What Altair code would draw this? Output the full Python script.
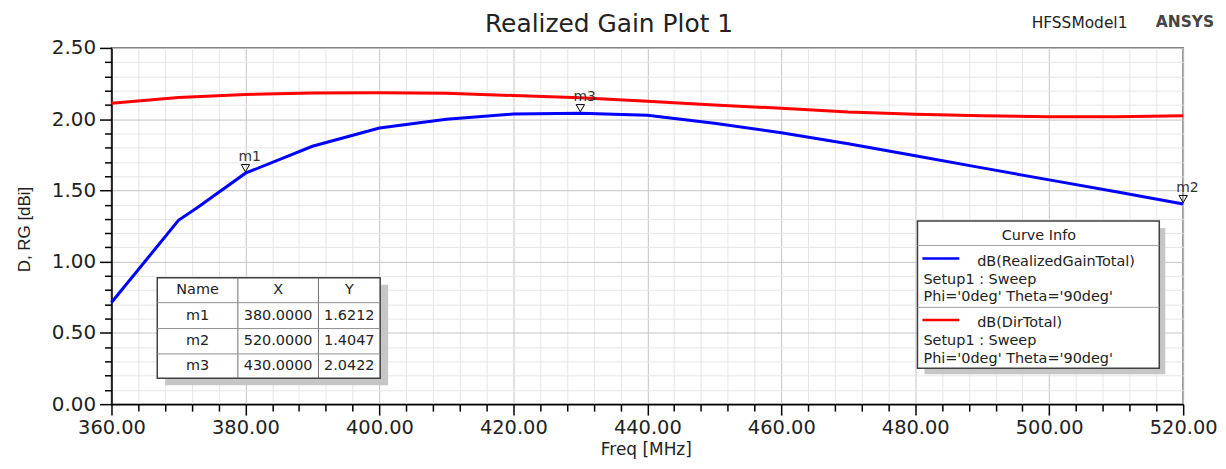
import altair as alt
import pandas as pd

# ---------------- data ----------------
freq_rg = [360, 370, 373, 380, 390, 400, 410, 420, 430, 440, 450, 460, 470, 480, 490, 500, 510, 520]
realized_gain = [0.713, 1.29, 1.385, 1.621, 1.81, 1.938, 2.00, 2.036, 2.042, 2.028, 1.972, 1.905,
                 1.828, 1.743, 1.658, 1.574, 1.49, 1.405]
freq_d = [360, 370, 380, 390, 400, 410, 420, 430, 440, 450, 460, 470, 480, 490, 500, 510, 520]
dir_total = [2.111, 2.152, 2.173, 2.183, 2.186, 2.182, 2.166, 2.150, 2.125, 2.100, 2.076, 2.050,
             2.035, 2.024, 2.017, 2.017, 2.024]

marker_names = ["m1", "m2", "m3"]
marker_x = [380.0, 520.0, 430.0]
marker_y = [1.6212, 1.4047, 2.0422]

series_names = ["dB(RealizedGainTotal)", "dB(DirTotal)"]
series_colors = ["#0000ff", "#ff0000"]

x_tick_values = list(range(360, 521, 4))          # every grid line, labels on multiples of 20
y_tick_values = [round(i * 0.1, 1) for i in range(26)]  # every grid line, labels on multiples of 0.5

title_text = "Realized Gain Plot 1"
model_text = "HFSSModel1"
brand_text = "ANSYS"
x_title = "Freq [MHz]"
y_title = "D, RG [dBi]"
setup_text = "Setup1 : Sweep"
angle_text = "Phi='0deg' Theta='90deg'"

# ---------------- tables ----------------
lines_df = pd.concat([
    pd.DataFrame({"freq": freq_rg, "val": realized_gain, "series": series_names[0]}),
    pd.DataFrame({"freq": freq_d, "val": dir_total, "series": series_names[1]}),
])
markers_df = pd.DataFrame({"freq": marker_x, "val": marker_y, "name": marker_names})

FONT = "DejaVu Sans"
TXT = "#222222"

x_major = "datum.value % 20 === 0"
y_major = "round(datum.value * 10) % 5 === 0"

x_axis = alt.Axis(
    values=x_tick_values,
    labelExpr=f"{x_major} ? format(datum.value, '.2f') : ''",
    labelOverlap=False, labelFlush=False,
    labelFont=FONT, labelFontSize=19.5, labelColor=TXT, labelPadding=3,
    tickColor="black", tickWidth=1.5,
    tickSize={"condition": {"test": x_major, "value": 11}, "value": 7},
    gridColor={"condition": {"test": x_major, "value": "#c4c4c4"}, "value": "#e6e6e6"},
    gridWidth=1,
    domainColor="black", domainWidth=1.5,
    title=x_title, titleFont=FONT, titleFontSize=17, titleFontWeight="normal",
    titleColor=TXT, titleX=537, titleY=51, titleBaseline="alphabetic", titleAlign="center",
)
y_axis = alt.Axis(
    values=y_tick_values,
    labelExpr=f"{y_major} ? format(datum.value, '.2f') : ''",
    labelOverlap=False, labelFlush=False,
    labelFont=FONT, labelFontSize=20, labelColor=TXT, labelPadding=4,
    tickColor="black", tickWidth=1.5,
    tickSize={"condition": {"test": y_major, "value": 12}, "value": 7},
    gridColor={"condition": {"test": y_major, "value": "#c4c4c4"}, "value": "#e6e6e6"},
    gridWidth=1,
    domainColor="black", domainWidth=1.5,
    title=y_title, titleFont="Liberation Sans", titleFontSize=17, titleFontWeight="normal",
    titleColor=TXT, titleX=-87, titleY=182, titleBaseline="middle", titleAlign="center",
    titleAngle=270,
)

x_enc = alt.X("freq:Q", scale=alt.Scale(domain=[360, 520], nice=False, zero=False), axis=x_axis)
y_enc = alt.Y("val:Q", scale=alt.Scale(domain=[0, 2.5], nice=False, zero=False), axis=y_axis)

lines = alt.Chart(lines_df).mark_line(strokeWidth=3).encode(
    x=x_enc, y=y_enc,
    color=alt.Color("series:N", scale=alt.Scale(domain=series_names, range=series_colors), legend=None),
    detail="series:N",
)

mk_tri = alt.Chart(markers_df).mark_point(
    shape="triangle-down", filled=False, stroke="black", strokeWidth=1, size=70, yOffset=-5, opacity=1
).encode(x=x_enc, y=y_enc)
mk_txt = alt.Chart(markers_df).mark_text(
    align="left", baseline="middle", dx=-7, dy=-16, font=FONT, fontSize=14, color="#333333"
).encode(x=x_enc, y=y_enc, text="name:N")

one = alt.Data(values=[{"k": 0}])


def txt(s, x, y, size=14.0, align="center", font=FONT, weight="normal", color=TXT):
    return alt.Chart(one).mark_text(
        text=s, fontSize=size, align=align, baseline="middle", font=font, fontWeight=weight, color=color
    ).encode(x=alt.value(x), y=alt.value(y))


def rule(x1, y1, x2, y2, color="#999999", w=1.0):
    return alt.Chart(one).mark_rule(color=color, strokeWidth=w).encode(
        x=alt.value(x1), x2=alt.value(x2), y=alt.value(y1), y2=alt.value(y2))


def box(x1, y1, x2, y2, fill, stroke=None, w=1.0):
    kw = {"fill": fill}
    if stroke:
        kw.update(stroke=stroke, strokeWidth=w)
    return alt.Chart(one).mark_rect(**kw).encode(
        x=alt.value(x1), x2=alt.value(x2), y=alt.value(y1), y2=alt.value(y2))


# ----- marker table -----
tL, tR, tT, tB = 46, 270, 231, 332
cols = [tL, 127, 208, tR]
rows = [tT, 256, 282, 307.5, tB]
table_layers = [
    box(tL + 8, tT + 7, tR + 8, tB + 7, "#c6c6c6"),
    box(tL, tT, tR, tB, "white", "#404040", 1.5),
]
for c in cols[1:-1]:
    table_layers.append(rule(c, tT, c, tB, "#707070", 1))
for r in rows[1:-1]:
    table_layers.append(rule(tL, r, tR, r, "#909090", 1))
col_c = [(cols[i] + cols[i + 1]) / 2 for i in range(3)]
row_c = [(rows[i] + rows[i + 1]) / 2 for i in range(4)]
for j, h in enumerate(["Name", "X", "Y"]):
    table_layers.append(txt(h, col_c[j], row_c[0], 14.5))
for i in range(3):
    table_layers.append(txt(marker_names[i], col_c[0], row_c[i + 1], 14.5))
    table_layers.append(txt(f"{marker_x[i]:.4f}", col_c[1], row_c[i + 1], 14.5))
    table_layers.append(txt(f"{marker_y[i]:.4f}", col_c[2], row_c[i + 1], 14.5))

# ----- curve info legend -----
lL, lR, lT, lB = 810, 1053, 174, 322
leg_layers = [
    box(lL + 7, lT + 7, lR + 6, lB + 6, "#c6c6c6"),
    box(lL, lT, lR, lB, "white", "#404040", 1.5),
    rule(lL, 198.5, lR, 198.5, "#a0a0a0", 1),
    rule(lL, 260.7, lR, 260.7, "#a0a0a0", 1),
    txt("Curve Info", 932, 189, 14.5),
    rule(815, 211.7, 852, 211.7, series_colors[0], 2.5),
    txt(series_names[0], 870, 215, 14.5, align="left"),
    txt(setup_text, 816, 233.4, 14.5, align="left"),
    txt(angle_text, 816, 250.7, 14.5, align="left"),
    rule(815, 273.4, 852, 273.4, series_colors[1], 2.5),
    txt(series_names[1], 870, 276.7, 14.5, align="left"),
    txt(setup_text, 816, 295, 14.5, align="left"),
    txt(angle_text, 816, 312.7, 14.5, align="left"),
]

# ----- header texts -----
head_layers = [
    txt(title_text, 500, -24.5, 25),
    txt(model_text, 1021, -25.5, 15.5, align="right"),
    txt(brand_text, 1108, -26.5, 15.5, align="right", weight="bold", color="#444444"),
]

chart = alt.layer(
    lines, mk_tri, mk_txt, *table_layers, *leg_layers, *head_layers
).properties(
    width=1077, height=358,
    padding={"left": 104, "top": 39, "right": 35, "bottom": 55},
    autosize="none",
    background="white",
).configure_view(stroke="#555555", strokeWidth=1.5)

chart.save("out.html", embed_options={"renderer": "svg", "actions": False})
